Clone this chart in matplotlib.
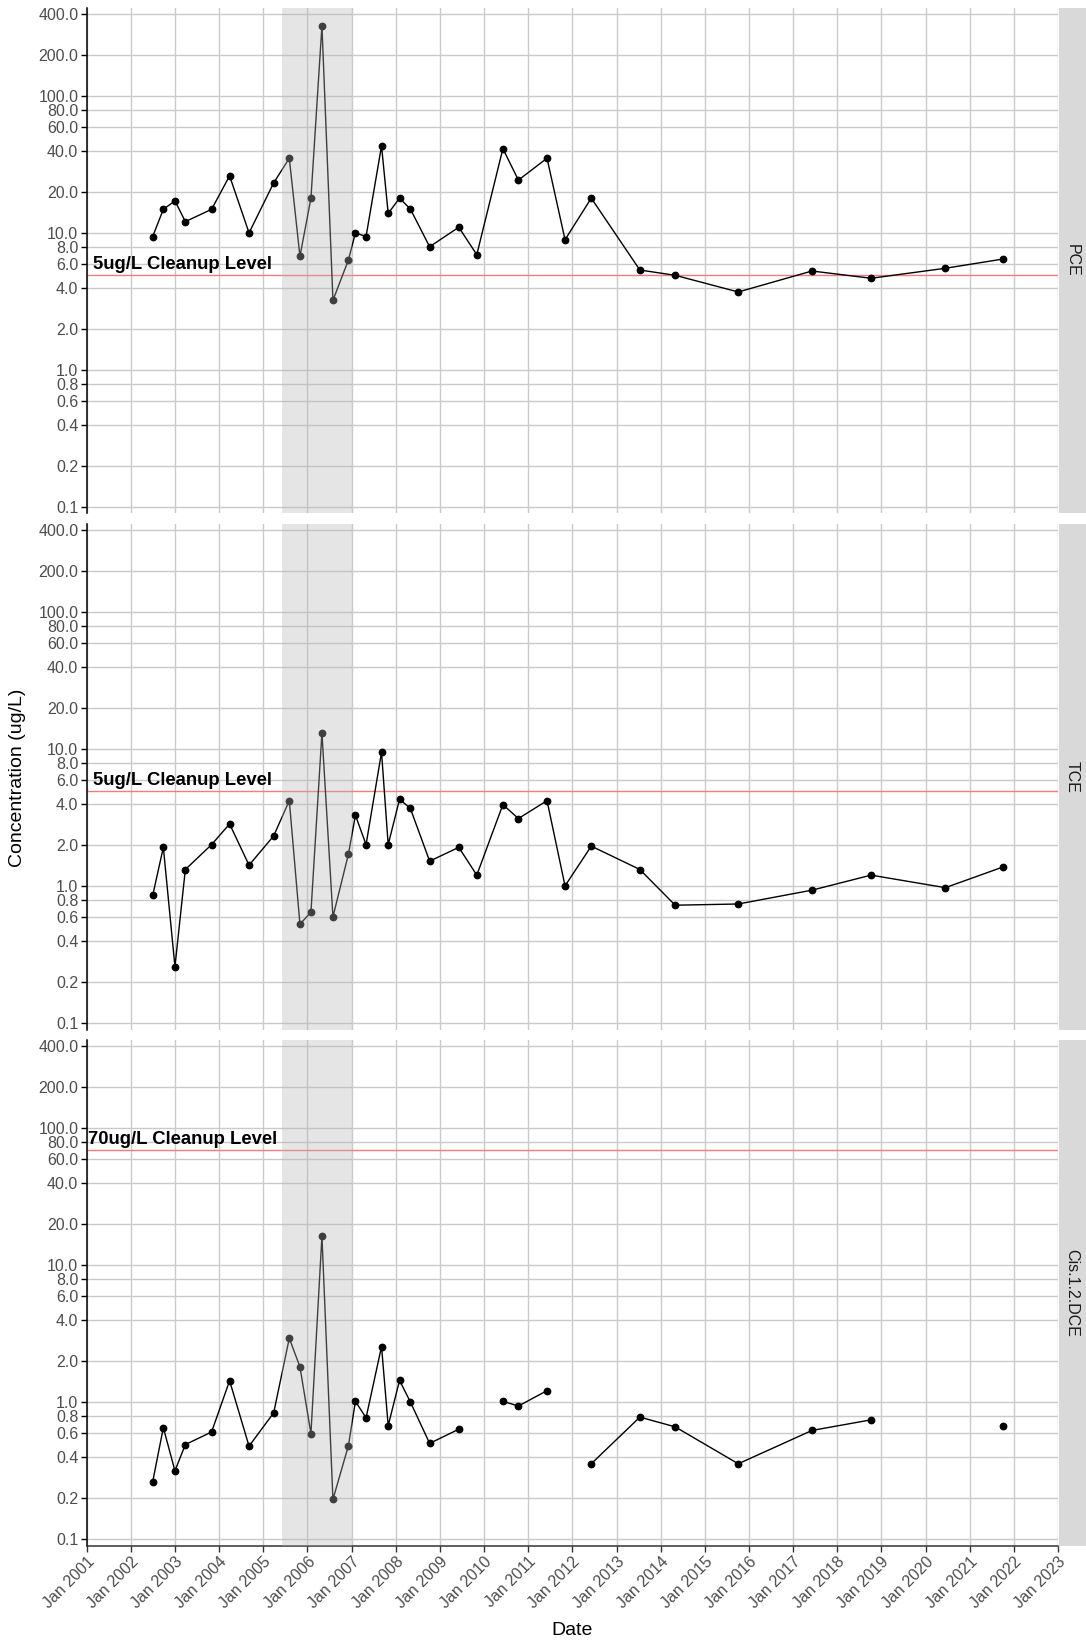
import matplotlib
matplotlib.use("Agg")
import matplotlib.pyplot as plt
import numpy as np
import pandas as pd

plt.rcParams['font.family'] = ['Liberation Sans', 'DejaVu Sans']

# sampling dates (same for every compound)
dates = pd.to_datetime([
    '2002-07-01', '2002-09-27', '2003-01-01', '2003-03-28', '2003-10-31',
    '2004-03-28', '2004-09-05', '2005-03-28', '2005-08-04', '2005-10-31',
    '2006-01-30', '2006-05-01', '2006-07-31', '2006-12-06', '2007-02-02',
    '2007-05-01', '2007-09-06', '2007-10-31', '2008-02-02', '2008-05-01',
    '2008-10-08', '2009-06-06', '2009-11-02', '2010-06-06', '2010-10-12',
    '2011-06-06', '2011-11-02', '2012-06-06', '2013-07-13', '2014-05-01',
    '2015-10-05', '2017-06-06', '2018-10-08', '2020-06-13', '2021-10-05'])

pce = [9.5, 15.0, 17.3, 12.2, 15.0, 26.3, 10.1, 23.4, 35.4, 6.8,
       18.1, 328, 3.25, 6.4, 10.1, 9.5, 43.6, 14.0, 18.1, 15.1,
       8.0, 11.1, 7.0, 41.6, 24.5, 35.4, 9.0, 18.1, 5.41, 4.95,
       3.74, 5.32, 4.71, 5.57, 6.51]
tce = [0.86, 1.93, 0.26, 1.33, 2.02, 2.86, 1.43, 2.34, 4.23, 0.53,
       0.65, 13.2, 0.60, 1.72, 3.31, 2.02, 9.54, 2.02, 4.33, 3.72,
       1.53, 1.93, 1.21, 3.96, 3.13, 4.23, 1.01, 1.97, 1.33, 0.73,
       0.745, 0.94, 1.21, 0.98, 1.39]
nan = np.nan
dce = [0.264, 0.655, 0.317, 0.493, 0.609, 1.44, 0.48, 0.841, 2.94, 1.82,
       0.593, 16.4, 0.196, 0.484, 1.02, 0.772, 2.56, 0.677, 1.45, 1.01,
       0.503, 0.638, nan, 1.02, 0.942, 1.22, nan, 0.357, 0.782, 0.664,
       0.357, 0.625, 0.747, nan, 0.668]

compounds = ['PCE', 'TCE', 'Cis.1.2.DCE']
series = [pce, tce, dce]
cleanup = [5, 5, 70]
cleanup_labels = ['5ug/L Cleanup Level', '5ug/L Cleanup Level', '70ug/L Cleanup Level']
label_date = pd.Timestamp('2003-03-06')

shade_start = pd.Timestamp('2005-06-01')
shade_end = pd.Timestamp('2007-01-01')

yticks = [0.1, 0.2, 0.4, 0.6, 0.8, 1, 2, 4, 6, 8, 10, 20, 40, 60, 80, 100, 200, 400]
years = pd.date_range('2001-01-01', '2023-01-01', freq='YS')

W, H = 1086, 1644
fig = plt.figure(figsize=(W / 100, H / 100), dpi=100)

left, right = 86.7, 1058
tops = [8, 524, 1040]
ph = 505.5

for i, (name, vals) in enumerate(zip(compounds, series)):
    bottom = H - tops[i] - ph
    ax = fig.add_axes([left / W, bottom / H, (right - left) / W, ph / H])
    ax.set_yscale('log')
    ax.set_ylim(0.0904, 442)
    ax.set_xlim(years[0], years[-1])

    ax.plot(dates, vals, color='black', lw=1.0, marker='o', ms=4.6, zorder=2)
    ax.axhline(cleanup[i], color='#F47C7C', lw=1.0, zorder=1.5)
    ax.axvspan(shade_start, shade_end, color='#B5B5B5', alpha=0.35, lw=0, zorder=3)
    ax.annotate(cleanup_labels[i], xy=(label_date, cleanup[i]), xytext=(0, 2),
                textcoords='offset pixels', ha='center', va='bottom',
                fontsize=13.3, fontweight='bold', color='black', zorder=4)

    ax.set_yticks(yticks)
    ax.set_yticklabels([f'{v:.1f}' for v in yticks])
    ax.yaxis.set_minor_locator(matplotlib.ticker.NullLocator())
    ax.set_xticks(years)
    ax.grid(True, color='#CACACA', lw=1.0, zorder=0)
    ax.set_axisbelow(True)

    for s in ['top', 'right']:
        ax.spines[s].set_visible(False)
    ax.spines['left'].set_color('black')
    ax.spines['left'].set_linewidth(1.1)
    ax.tick_params(axis='y', length=4, width=1, color='black',
                   labelcolor='#4D4D4D', labelsize=11.5, pad=2)

    if i < 2:
        ax.spines['bottom'].set_visible(False)
        ax.tick_params(axis='x', length=0, labelbottom=False)
    else:
        ax.spines['bottom'].set_color('#333333')
        ax.spines['bottom'].set_linewidth(1.1)
        ax.set_xticklabels([d.strftime('Jan %Y') for d in years])
        ax.tick_params(axis='x', length=4, width=1, color='#333333',
                       labelcolor='#4D4D4D', labelsize=11.5, pad=2)
        for lab in ax.get_xticklabels():
            lab.set_rotation(45)
            lab.set_ha('right')
            lab.set_va('top')
            lab.set_rotation_mode('anchor')

    # facet strip on the right
    sax = fig.add_axes([1059 / W, bottom / H, 40 / W, ph / H])
    sax.set_facecolor('#D9D9D9')
    sax.set_xticks([])
    sax.set_yticks([])
    for s in sax.spines.values():
        s.set_visible(False)
    sax.text(13 / 40, 0.5, name, rotation=-90, ha='center', va='center',
             fontsize=11.5, color='#1A1A1A', transform=sax.transAxes)

fig.text(572 / W, 1 - 1630 / H, 'Date', ha='center', va='center', fontsize=14)
fig.text(18 / W, 1 - 778 / H, 'Concentration (ug/L)', ha='center', va='center',
         rotation=90, fontsize=14)

fig.savefig('out.png', dpi=100)
